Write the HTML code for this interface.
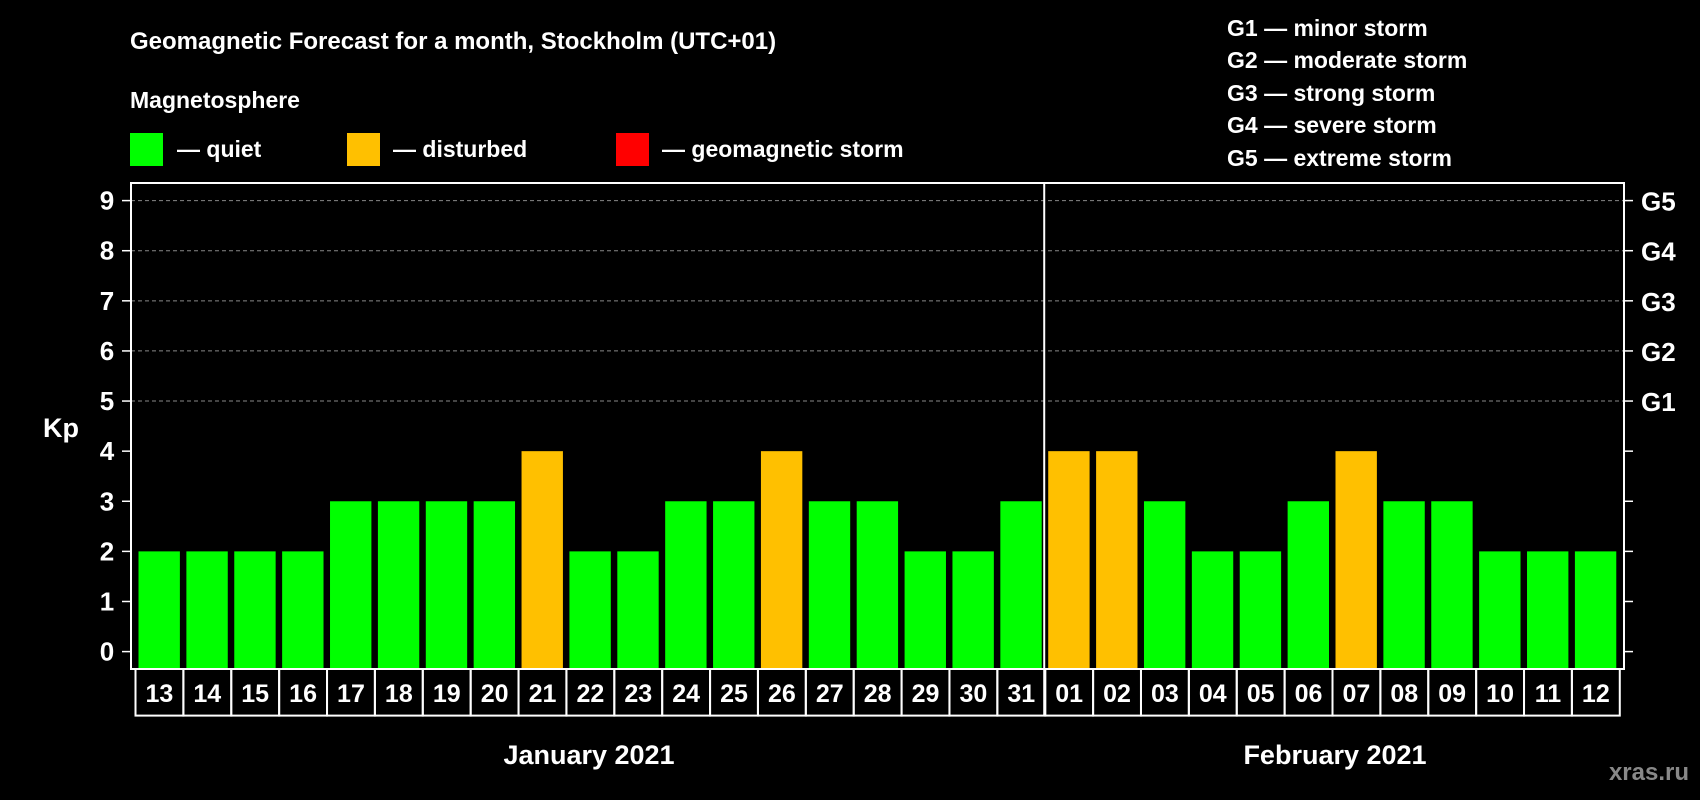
<!DOCTYPE html>
<html><head><meta charset="utf-8"><style>
html,body{margin:0;padding:0;background:#000;}
svg{display:block;font-family:"Liberation Sans",Arial,sans-serif;font-weight:bold;}
</style></head><body>
<svg id="chart" width="1700" height="800" viewBox="0 0 1700 800" xmlns="http://www.w3.org/2000/svg">
<rect width="1700" height="800" fill="#000"/>
<text x="130" y="49" fill="#fff" font-size="24">Geomagnetic Forecast for a month, Stockholm (UTC+01)</text>
<text x="130" y="108" fill="#fff" font-size="23">Magnetosphere</text>
<g><rect x="130" y="133" width="33" height="33" fill="#00ff00"/><text x="177" y="157" fill="#fff" font-size="23">— quiet</text></g>
<g><rect x="347" y="133" width="33" height="33" fill="#ffc000"/><text x="393" y="157" fill="#fff" font-size="23">— disturbed</text></g>
<g><rect x="616" y="133" width="33" height="33" fill="#ff0000"/><text x="662" y="157" fill="#fff" font-size="23">— geomagnetic storm</text></g>
<g fill="#fff" font-size="23">
<text x="1227" y="36">G1 — minor storm</text>
<text x="1227" y="68">G2 — moderate storm</text>
<text x="1227" y="101">G3 — strong storm</text>
<text x="1227" y="133">G4 — severe storm</text>
<text x="1227" y="166">G5 — extreme storm</text>
</g>
<text x="43" y="437" fill="#fff" font-size="27">Kp</text>
<g id="grid"></g><g id="bars"></g><g id="axes"></g><g id="dates"></g>
<text x="589" y="764" fill="#fff" font-size="27" text-anchor="middle">January 2021</text>
<text x="1335" y="764" fill="#fff" font-size="27" text-anchor="middle">February 2021</text>
<text x="1689" y="780" fill="#888" font-size="24" text-anchor="end">xras.ru</text>
</svg>
<script>
const days = ["13","14","15","16","17","18","19","20","21","22","23","24","25","26","27","28","29","30","31","01","02","03","04","05","06","07","08","09","10","11","12"];
const kpValues = [2,2,2,2,3,3,3,3,4,2,2,3,3,4,3,3,2,2,3,4,4,3,2,2,3,4,3,3,2,2,2];
const yTicks = [0,1,2,3,4,5,6,7,8,9];
const gLabels = ["G1","G2","G3","G4","G5"];
const monthBreakIndex = 19;

const NS="http://www.w3.org/2000/svg";
const L=131, R=1624, T=183, B=669, X0=135.5, SLOT=47.88;
const y0=651.6, unit=(651.6-200.6)/9;
const yS=v=>y0-v*unit;
const xS=i=>X0+i*SLOT;
function mk(tag,attrs,parent){const e=document.createElementNS(NS,tag);for(const k in attrs)e.setAttribute(k,attrs[k]);parent.appendChild(e);return e;}
const grid=document.getElementById('grid'),bars=document.getElementById('bars'),axes=document.getElementById('axes'),dates=document.getElementById('dates');
yTicks.forEach(v=>{
  const y=yS(v);
  if(v>=5){const g=mk('line',{x1:L,x2:R,y1:y,y2:y,stroke:'#888','stroke-dasharray':'4,3','stroke-width':1},grid);
  
  }
  const t=mk('line',{x1:L-9,x2:L,y1:y,y2:y,stroke:'#fff','stroke-width':1.5},axes);
  
  
  const t2=mk('line',{x1:R,x2:R+9,y1:y,y2:y,stroke:'#fff','stroke-width':1.5},axes);
  
  
  const lb=mk('text',{x:107,y:y+9,fill:'#fff','font-size':26,'text-anchor':'middle'},axes);
  lb.textContent=v;
  
  
  if(v>=5){const gl=mk('text',{x:1641,y:y+10,fill:'#fff','font-size':26},axes);
  gl.textContent=gLabels[v-5];
  
  }
});
kpValues.forEach((v,i)=>{
  const col=v>=5?'#ff0000':(v>=4?'#ffc000':'#00ff00');
  const b=mk('rect',{x:xS(i)+3,y:yS(v),width:SLOT-6.5,height:B-yS(v),fill:col},bars);
  
  
  const c=mk('rect',{x:xS(i),y:B,width:SLOT,height:46.6,fill:'none',stroke:'#fff','stroke-width':2},dates);
  
  
  const t=mk('text',{x:xS(i)+SLOT/2,y:B+33,fill:'#fff','font-size':25,'text-anchor':'middle'},dates);
  t.textContent=days[i];
  
  
});
const fr=mk('rect',{x:L,y:T,width:R-L,height:B-T,fill:'none',stroke:'#fff','stroke-width':2},axes);


const xd=xS(monthBreakIndex)-1;
const dv=mk('line',{x1:xd,x2:xd,y1:T,y2:B+47,stroke:'#fff','stroke-width':2},axes);


</script>
</body></html>
